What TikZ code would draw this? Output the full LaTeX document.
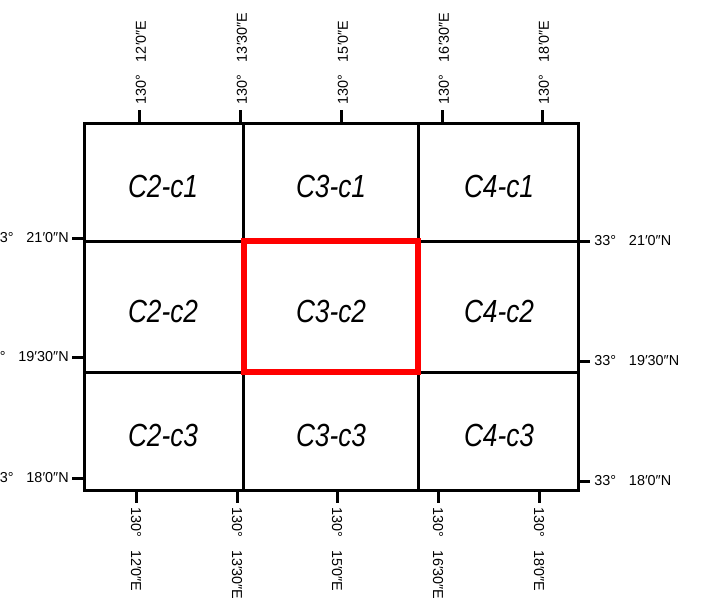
\documentclass[tikz,border=0pt]{standalone}
\usepackage{fontspec}
\setmainfont{Liberation Sans}
\usetikzlibrary{positioning}
\newcommand{\lonlabel}[1]{130°\hspace{0.9em}#1″E}
\newcommand{\latlabel}[1]{33°\hspace{0.9em}#1″N}
\newcommand{\cellname}[1]{\scalebox{0.82}[1]{#1}}

\begin{document}
\begin{tikzpicture}[
    x=0.75pt, y=-0.75pt,
    frame/.style={draw=black, line width=2.25pt},
    tickmark/.style={draw=black, line width=2.25pt},
    selected/.style={draw=red, line width=4pt},
    cell/.style={font=\fontsize{24}{26}\selectfont\itshape, inner sep=0pt},
    deg/.style={font=\fontsize{10.8}{12}\selectfont, inner sep=0pt}
  ]
    \useasboundingbox (0,0) rectangle (727,600);

    % grid of map sheets
    \draw[frame] (84,123) rectangle (578,490);
    \draw[frame] (243.5,123) -- (243.5,490);
    \draw[frame] (418,123) -- (418,490);
    \draw[frame] (84,241) -- (578,241);
    \draw[frame] (84,372) -- (578,372);
    \draw[selected] (244,241) rectangle (418,372);

    % sheet names
    \foreach \x/\c in {163/2, 331/3, 499/4}
      \foreach \y/\r in {186/1, 311/2, 435/3}
        \node[cell] (C\c c\r) at (\x,\y) {\cellname{C\c-c\r}};

    % longitude ticks
    \foreach \x/\t [count=\i] in {139/12′0, 240/13′30, 341/15′0, 442/16′30, 542/18′0} {
      \draw[tickmark] (\x,110) -- (\x,123);
      \node[deg, rotate=90, anchor=west] (top\i) at (\x+2,105) {\lonlabel{\t}};
    }
    \foreach \x/\t [count=\i] in {136/12′0, 237/13′30, 337/15′0, 438/16′30, 539/18′0} {
      \draw[tickmark] (\x,490) -- (\x,503);
      \node[deg, rotate=-90, anchor=west] (bot\i) at (\x,507) {\lonlabel{\t}};
    }

    % latitude ticks
    \foreach \y/\t [count=\i] in {238/21′0, 357/19′30, 478/18′0} {
      \draw[tickmark] (72,\y) -- (84,\y);
      \node[deg, anchor=east] (left\i) at (69,\y) {\latlabel{\t}};
    }
    \foreach \y/\t [count=\i] in {241/21′0, 361/19′30, 481/18′0} {
      \draw[tickmark] (578,\y) -- (590,\y);
      \node[deg, anchor=west] (right\i) at (594,\y) {\latlabel{\t}};
    }
  \end{tikzpicture}
\end{document}
